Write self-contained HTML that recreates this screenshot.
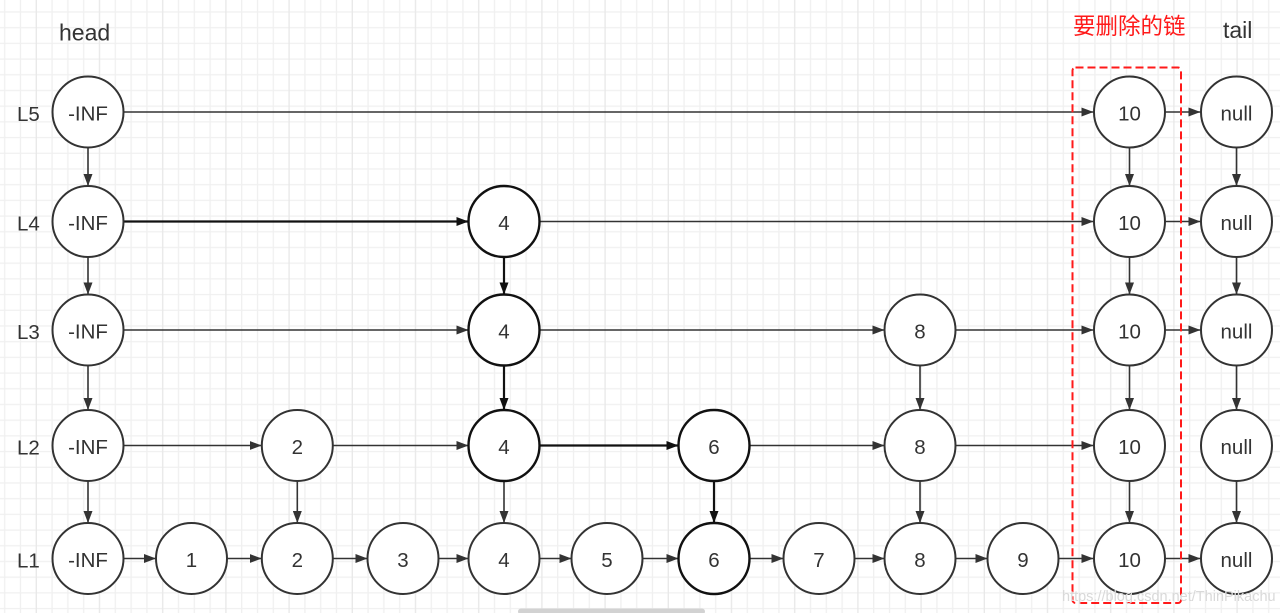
<!DOCTYPE html>
<html>
<head>
<meta charset="utf-8">
<style>
html,body{margin:0;padding:0;background:#fff;}
body{width:1280px;height:613px;overflow:hidden;}
svg{display:block;}
.n{fill:#fff;stroke:#333;stroke-width:2;}
.nb{fill:#fff;stroke:#111;stroke-width:2.4;}
.t{font-family:"Liberation Sans",sans-serif;font-size:20.5px;fill:#333;text-anchor:middle;}
.lb{font-family:"Liberation Sans",sans-serif;font-size:20.5px;fill:#333;}
.e{stroke:#333;stroke-width:1.6;fill:none;}
.eb{stroke:#111;stroke-width:2.2;fill:none;}
</style>
</head>
<body>
<svg width="1280" height="613" viewBox="0 0 1280 613" xmlns="http://www.w3.org/2000/svg">
<defs>
<pattern id="g" x="-3.3" y="4" width="63.2" height="62.8" patternUnits="userSpaceOnUse">
<g stroke="#f0f0f0" stroke-width="1.3">
<line x1="8" y1="0" x2="8" y2="62.8"/>
<line x1="23.8" y1="0" x2="23.8" y2="62.8"/>
<line x1="55.4" y1="0" x2="55.4" y2="62.8"/>
<line x1="0" y1="8" x2="63.2" y2="8"/>
<line x1="0" y1="23.7" x2="63.2" y2="23.7"/>
<line x1="0" y1="39.4" x2="63.2" y2="39.4"/>
<line x1="0" y1="55.1" x2="63.2" y2="55.1"/>
</g>
<line x1="39.6" y1="0" x2="39.6" y2="62.8" stroke="#e8e8e8" stroke-width="1.3"/>
</pattern>
<marker id="a" viewBox="0 0 12 9" refX="12" refY="4.5" markerWidth="12" markerHeight="9" orient="auto" markerUnits="userSpaceOnUse">
<path d="M0,0 L12,4.5 L0,9 z" fill="#333"/>
</marker>
<marker id="ab" viewBox="0 0 12 9" refX="12" refY="4.5" markerWidth="12" markerHeight="9" orient="auto" markerUnits="userSpaceOnUse">
<path d="M0,0 L12,4.5 L0,9 z" fill="#111"/>
</marker>
</defs>
<rect x="0" y="0" width="1280" height="613" fill="url(#g)"/>

<!-- top labels -->
<text x="59" y="40.5" font-family="Liberation Sans, sans-serif" font-size="23" fill="#333">head</text>
<text x="1223" y="38" font-family="Liberation Sans, sans-serif" font-size="23" fill="#333">tail</text>
<text x="1073" y="34" font-family="'Liberation Sans','Noto Sans CJK SC',sans-serif" font-size="22.5" fill="#ff1a1a">要删除的链</text>

<!-- level labels -->
<text class="lb" x="17" y="121">L5</text>
<text class="lb" x="17" y="230.5">L4</text>
<text class="lb" x="17" y="339">L3</text>
<text class="lb" x="17" y="454.5">L2</text>
<text class="lb" x="17" y="567.5">L1</text>

<!-- horizontal edges -->
<g class="e">
<!-- L5 -->
<line x1="123.5" y1="112" x2="1093.5" y2="112" marker-end="url(#a)"/>
<line x1="1164.5" y1="112" x2="1200.5" y2="112" marker-end="url(#a)"/>
<!-- L4 -->
<line x1="539.5" y1="221.5" x2="1093.5" y2="221.5" marker-end="url(#a)"/>
<line x1="1164.5" y1="221.5" x2="1200.5" y2="221.5" marker-end="url(#a)"/>
<!-- L3 -->
<line x1="123.5" y1="330" x2="468.5" y2="330" marker-end="url(#a)"/>
<line x1="539.5" y1="330" x2="884.5" y2="330" marker-end="url(#a)"/>
<line x1="955.5" y1="330" x2="1093.5" y2="330" marker-end="url(#a)"/>
<line x1="1164.5" y1="330" x2="1200.5" y2="330" marker-end="url(#a)"/>
<!-- L2 -->
<line x1="123.5" y1="445.5" x2="261.8" y2="445.5" marker-end="url(#a)"/>
<line x1="332.8" y1="445.5" x2="468.5" y2="445.5" marker-end="url(#a)"/>
<line x1="749.5" y1="445.5" x2="884.5" y2="445.5" marker-end="url(#a)"/>
<line x1="955.5" y1="445.5" x2="1093.5" y2="445.5" marker-end="url(#a)"/>
<!-- L1 -->
<line x1="123.5" y1="558.5" x2="156" y2="558.5" marker-end="url(#a)"/>
<line x1="227" y1="558.5" x2="261.8" y2="558.5" marker-end="url(#a)"/>
<line x1="332.8" y1="558.5" x2="367.5" y2="558.5" marker-end="url(#a)"/>
<line x1="438.5" y1="558.5" x2="468.5" y2="558.5" marker-end="url(#a)"/>
<line x1="539.5" y1="558.5" x2="571.5" y2="558.5" marker-end="url(#a)"/>
<line x1="642.5" y1="558.5" x2="678.5" y2="558.5" marker-end="url(#a)"/>
<line x1="749.5" y1="558.5" x2="783.5" y2="558.5" marker-end="url(#a)"/>
<line x1="854.5" y1="558.5" x2="884.5" y2="558.5" marker-end="url(#a)"/>
<line x1="955.5" y1="558.5" x2="987.5" y2="558.5" marker-end="url(#a)"/>
<line x1="1058.5" y1="558.5" x2="1093.5" y2="558.5" marker-end="url(#a)"/>
<line x1="1164.5" y1="558.5" x2="1200.5" y2="558.5" marker-end="url(#a)"/>

<!-- vertical edges -->
<line x1="88" y1="147.5" x2="88" y2="186" marker-end="url(#a)"/>
<line x1="88" y1="257" x2="88" y2="294.5" marker-end="url(#a)"/>
<line x1="88" y1="365.5" x2="88" y2="410" marker-end="url(#a)"/>
<line x1="88" y1="481" x2="88" y2="523" marker-end="url(#a)"/>

<line x1="504" y1="481" x2="504" y2="523" marker-end="url(#a)"/>
<line x1="297.3" y1="481" x2="297.3" y2="523" marker-end="url(#a)"/>

<line x1="920" y1="365.5" x2="920" y2="410" marker-end="url(#a)"/>
<line x1="920" y1="481" x2="920" y2="523" marker-end="url(#a)"/>

<line x1="1129.5" y1="147.5" x2="1129.5" y2="186" marker-end="url(#a)"/>
<line x1="1129.5" y1="257" x2="1129.5" y2="294.5" marker-end="url(#a)"/>
<line x1="1129.5" y1="365.5" x2="1129.5" y2="410" marker-end="url(#a)"/>
<line x1="1129.5" y1="481" x2="1129.5" y2="523" marker-end="url(#a)"/>

<line x1="1236.5" y1="147.5" x2="1236.5" y2="186" marker-end="url(#a)"/>
<line x1="1236.5" y1="257" x2="1236.5" y2="294.5" marker-end="url(#a)"/>
<line x1="1236.5" y1="365.5" x2="1236.5" y2="410" marker-end="url(#a)"/>
<line x1="1236.5" y1="481" x2="1236.5" y2="523" marker-end="url(#a)"/>
</g>

<!-- bold path -->
<g class="eb">
<line x1="123.5" y1="221.5" x2="468.5" y2="221.5" marker-end="url(#ab)"/>
<line x1="504" y1="257" x2="504" y2="294.5" marker-end="url(#ab)"/>
<line x1="504" y1="365.5" x2="504" y2="410" marker-end="url(#ab)"/>
<line x1="539.5" y1="445.5" x2="678.5" y2="445.5" marker-end="url(#ab)"/>
<line x1="714" y1="481" x2="714" y2="523" marker-end="url(#ab)"/>
</g>

<!-- nodes -->
<g>
<circle class="n" cx="88" cy="112" r="35.5"/><text class="t" x="88" y="120.5">-INF</text>
<circle class="n" cx="88" cy="221.5" r="35.5"/><text class="t" x="88" y="230">-INF</text>
<circle class="n" cx="88" cy="330" r="35.5"/><text class="t" x="88" y="338.5">-INF</text>
<circle class="n" cx="88" cy="445.5" r="35.5"/><text class="t" x="88" y="454">-INF</text>
<circle class="n" cx="88" cy="558.5" r="35.5"/><text class="t" x="88" y="567">-INF</text>

<circle class="nb" cx="504" cy="221.5" r="35.5"/><text class="t" x="504" y="230">4</text>
<circle class="nb" cx="504" cy="330" r="35.5"/><text class="t" x="504" y="338.5">4</text>
<circle class="nb" cx="504" cy="445.5" r="35.5"/><text class="t" x="504" y="454">4</text>

<circle class="n" cx="920" cy="330" r="35.5"/><text class="t" x="920" y="338.5">8</text>
<circle class="n" cx="297.3" cy="445.5" r="35.5"/><text class="t" x="297.3" y="454">2</text>
<circle class="nb" cx="714" cy="445.5" r="35.5"/><text class="t" x="714" y="454">6</text>
<circle class="n" cx="920" cy="445.5" r="35.5"/><text class="t" x="920" y="454">8</text>

<circle class="n" cx="191.5" cy="558.5" r="35.5"/><text class="t" x="191.5" y="567">1</text>
<circle class="n" cx="297.3" cy="558.5" r="35.5"/><text class="t" x="297.3" y="567">2</text>
<circle class="n" cx="403" cy="558.5" r="35.5"/><text class="t" x="403" y="567">3</text>
<circle class="n" cx="504" cy="558.5" r="35.5"/><text class="t" x="504" y="567">4</text>
<circle class="n" cx="607" cy="558.5" r="35.5"/><text class="t" x="607" y="567">5</text>
<circle class="nb" cx="714" cy="558.5" r="35.5"/><text class="t" x="714" y="567">6</text>
<circle class="n" cx="819" cy="558.5" r="35.5"/><text class="t" x="819" y="567">7</text>
<circle class="n" cx="920" cy="558.5" r="35.5"/><text class="t" x="920" y="567">8</text>
<circle class="n" cx="1023" cy="558.5" r="35.5"/><text class="t" x="1023" y="567">9</text>

<circle class="n" cx="1129.5" cy="112" r="35.5"/><text class="t" x="1129.5" y="120.5">10</text>
<circle class="n" cx="1129.5" cy="221.5" r="35.5"/><text class="t" x="1129.5" y="230">10</text>
<circle class="n" cx="1129.5" cy="330" r="35.5"/><text class="t" x="1129.5" y="338.5">10</text>
<circle class="n" cx="1129.5" cy="445.5" r="35.5"/><text class="t" x="1129.5" y="454">10</text>
<circle class="n" cx="1129.5" cy="558.5" r="35.5"/><text class="t" x="1129.5" y="567">10</text>

<circle class="n" cx="1236.5" cy="112" r="35.5"/><text class="t" x="1236.5" y="120.5">null</text>
<circle class="n" cx="1236.5" cy="221.5" r="35.5"/><text class="t" x="1236.5" y="230">null</text>
<circle class="n" cx="1236.5" cy="330" r="35.5"/><text class="t" x="1236.5" y="338.5">null</text>
<circle class="n" cx="1236.5" cy="445.5" r="35.5"/><text class="t" x="1236.5" y="454">null</text>
<circle class="n" cx="1236.5" cy="558.5" r="35.5"/><text class="t" x="1236.5" y="567">null</text>
</g>

<!-- red dashed box -->
<rect x="1072.5" y="67.5" width="108.5" height="535.5" rx="3" ry="3" fill="none" stroke="#ff1a1a" stroke-width="2" stroke-dasharray="8 4"/>

<!-- watermark -->
<text x="1062" y="601" font-family="Liberation Sans, sans-serif" font-size="14.5" fill="#d9d9d9">https://blog.csdn.net/ThinPikachu</text>

<!-- scrollbar -->
<rect x="518" y="608.5" width="187" height="6" rx="3" ry="3" fill="#d2d2d2"/>
</svg>
</body>
</html>
